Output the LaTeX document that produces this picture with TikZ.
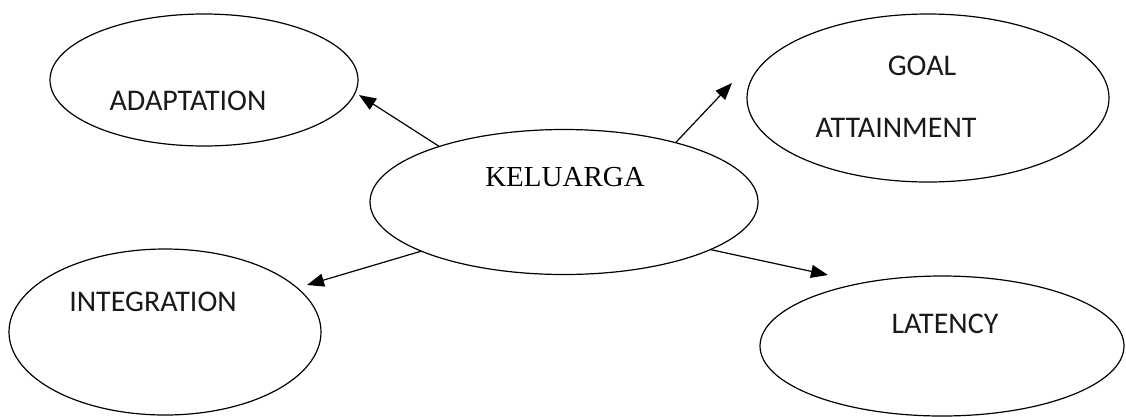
\documentclass[tikz,border=0pt]{standalone}
\usepackage{fontspec}
\setmainfont{Liberation Serif}
\newfontfamily\calib{Carlito}
\usetikzlibrary{shapes.geometric,arrows.meta}
\tikzset{
  oval/.style={draw=black, line width=1.2pt, ellipse, inner sep=0pt, outer sep=0pt},
  lbl/.style={font=\calib\fontsize{30}{32}\selectfont, inner sep=0pt, text=black!90},
  conn/.style={draw=black, line width=1.2pt, -{Triangle[length=17pt,width=13pt]}},
}
\begin{document}
\begin{tikzpicture}[x=1pt,y=-1pt]
\useasboundingbox[fill=white] (0,0) rectangle (1126,416);
% ellipses
\node[oval, minimum width=308pt, minimum height=132pt] (adapt) at (204,80) {};
\node[oval, minimum width=362pt, minimum height=168pt] (goal) at (928,98) {};
\node[oval, minimum width=388pt, minimum height=145pt] (kel) at (564,202) {};
\node[oval, minimum width=312pt, minimum height=166pt] (integ) at (165,332) {};
\node[oval, minimum width=364pt, minimum height=140pt] (lat) at (942,346) {};
% texts
\node[lbl] (tadapt) at (188,101) {ADAPTATION};
\node[lbl] (tgoal) at (922,65.5) {GOAL};
\node[lbl] (tatt) at (896,128) {ATTAINMENT};
\node[font=\fontsize{29}{31}\selectfont, inner sep=0pt] (tkel) at (565,177) {KELUARGA};
\node[lbl] (tinteg) at (153,301.5) {INTEGRATION};
\node[lbl] (tlat) at (945,324) {LATENCY};
% arrow tips
\coordinate (ta) at (359,95);
\coordinate (tg) at (732,83);
\coordinate (ti) at (307,285);
\coordinate (tl) at (828,275);
\draw[conn] (kel.156.4) -- (ta);
\draw[conn] (kel.28) -- (tg);
\draw[conn] (kel.199.5) -- (ti);
\draw[conn] (kel.-18.7) -- (tl);
\end{tikzpicture}
\end{document}
